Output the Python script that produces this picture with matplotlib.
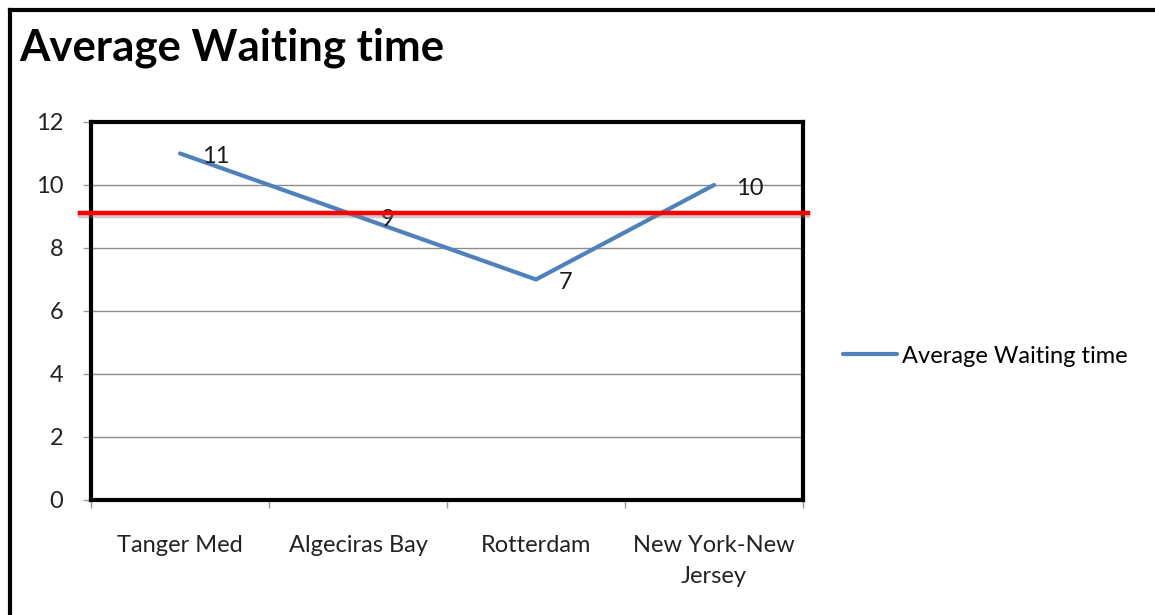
import matplotlib.pyplot as plt
import matplotlib.patheffects as pe
from matplotlib.lines import Line2D
import numpy as np

ports = ["Tanger Med", "Algeciras Bay", "Rotterdam", "New York-New\nJersey"]
waiting = [11, 9, 7, 10]
average_level = 9.1
series_name = "Average Waiting time"
y_ticks = [0, 2, 4, 6, 8, 10, 12]

plt.rcParams["font.family"] = ["Lato", "DejaVu Sans"]

fig = plt.figure(figsize=(11.55, 6.15), dpi=100)
ax = fig.add_axes([0.0788, 0.187, 0.6165, 0.6147])

x = np.arange(len(ports))
ax.plot(x, waiting, color="#4F81BD", lw=3, solid_capstyle="round", label=series_name, zorder=3)
for xi, v in zip(x, waiting):
    ax.annotate(str(v), (xi, v), xytext=(16, -2.5), textcoords="offset points",
                fontsize=17, color="#1a1a1a", va="center", ha="left")

# red reference line, running a little past the plot frame
ax.axhline(average_level, xmin=-0.016, xmax=1.007, color="#ff0000", lw=3.2,
           clip_on=False, zorder=4,
           path_effects=[pe.SimpleLineShadow(offset=(0, -2), shadow_color="gray", alpha=0.4),
                         pe.Normal()])

ax.set_xlim(-0.5, len(ports) - 0.5)
ax.set_ylim(0, 12)
ax.set_yticks(y_ticks)
ax.set_yticklabels([str(t) for t in y_ticks], fontsize=17, color="#222222")
ax.set_xticks(x)
ax.set_xticklabels(ports, fontsize=17, color="#222222", linespacing=1.6)
ax.tick_params(axis="x", length=0, pad=25)
ax.set_xticks(np.arange(len(ports) + 1) - 0.5, minor=True)
ax.tick_params(axis="x", which="minor", length=6, color="#999999", width=1)
ax.tick_params(axis="y", length=6, color="#999999", width=1, pad=14)
ax.grid(axis="y", color="#8c8c8c", lw=1)
ax.set_axisbelow(True)
for s in ax.spines.values():
    s.set_linewidth(3)
    s.set_color("black")

fig.text(0.017, 0.922, "Average Waiting time", fontsize=31.5, fontweight="bold", va="center", ha="left")

fig.legend(handles=[Line2D([0], [0], color="#4F81BD", lw=3, solid_capstyle="round")],
           labels=[series_name], loc="center left", bbox_to_anchor=(0.73, 0.421),
           frameon=False, fontsize=17, handlelength=2.3, handletextpad=0.2,
           borderpad=0, borderaxespad=0)

# outer frame: only top and left edges are visible
fig.add_artist(Line2D([0.0087, 0.0087], [0, 0.983], color="black", lw=3, transform=fig.transFigure))
fig.add_artist(Line2D([0.0087, 1], [0.983, 0.983], color="black", lw=3, transform=fig.transFigure))

fig.savefig("out.png", dpi=100)
